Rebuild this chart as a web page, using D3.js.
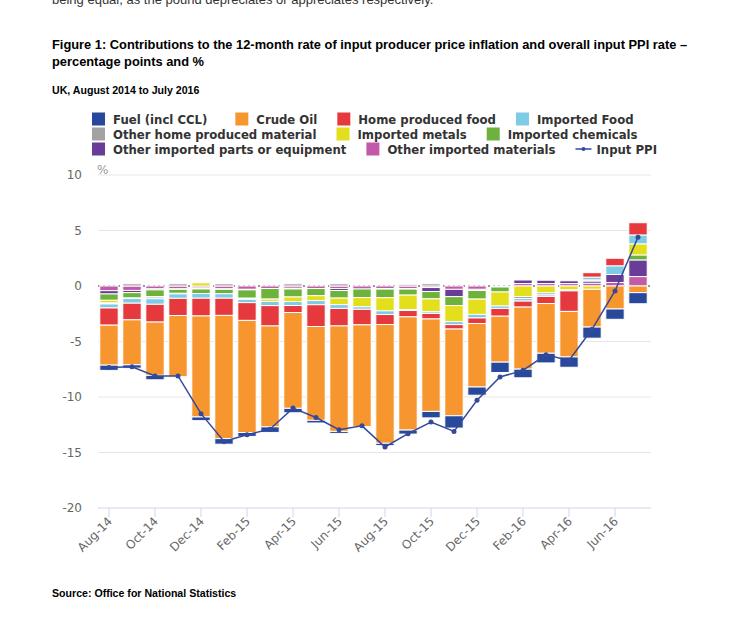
<!DOCTYPE html>
<html>
<head>
<meta charset="utf-8">
<script src="https://cdn.jsdelivr.net/npm/d3@7"></script>
<style>
  body { margin: 0; background: #fff; }
  svg { display: block; }
</style>
</head>
<body>
<script>
// months on the x axis
var months = ["Aug-14","Sep-14","Oct-14","Nov-14","Dec-14","Jan-15","Feb-15","Mar-15",
              "Apr-15","May-15","Jun-15","Jul-15","Aug-15","Sep-15","Oct-15","Nov-15",
              "Dec-15","Jan-16","Feb-16","Mar-16","Apr-16","May-16","Jun-16","Jul-16"];
var tickMonths = ["Aug-14","Oct-14","Dec-14","Feb-15","Apr-15","Jun-15",
                  "Aug-15","Oct-15","Dec-15","Feb-16","Apr-16","Jun-16"];
var yTicks = [10, 5, 0, -5, -10, -15, -20];

// contributions, percentage points
var fuel      = [-0.47,-0.30,-0.40,-0.05,-0.33,-0.50,-0.35,-0.50,-0.40,-0.24,-0.18,-0.05,
                 -0.21,-0.36,-0.58,-1.11,-0.74,-0.93,-0.78,-0.87,-0.93,-1.00,-0.93,-1.00];
var crude     = [-3.60,-4.05,-4.80,-5.50,-9.10,-11.1,-10.1,-9.09,-8.63,-8.45,-9.50,-9.16,
                 -10.7,-10.2,-8.33,-7.81,-5.72,-4.14,-5.59,-4.48,-4.10,-3.40,-2.07,-0.60];
var homeFood  = [-1.55,-1.50,-1.60,-1.55,-1.60,-1.55,-1.60,-1.83,-0.63,-1.96,-1.58,-1.40,
                 -0.90,-0.57,-0.50,-0.40,-0.50,-0.70,-0.54,-0.64,-1.85,0.40,0.68,1.10];
var impFood   = [-0.36,-0.42,-0.50,-0.40,-0.42,-0.40,-0.30,-0.38,-0.36,-0.38,-0.34,-0.23,
                 -0.33,-0.09,-0.15,-0.27,-0.32,-0.22,-0.23,-0.14,-0.09,0.25,0.78,0.80];
var otherHome = [-0.09,0.20,-0.15,0.20,0.10,0.20,-0.05,0.00,0.20,0.00,0.20,0.00,
                 0.00,0.15,0.20,0.00,0.00,0.00,-0.18,-0.18,0.00,0.10,0.00,0.00];
var metals    = [-0.24,-0.05,-0.05,-0.05,0.30,0.00,-0.05,-0.21,-0.41,-0.44,-0.59,-0.83,
                 -1.18,-1.30,-1.16,-1.45,-1.38,-1.26,-0.95,-0.62,-0.35,-0.30,0.00,1.00];
var chem      = [-0.57,-0.48,-0.60,-0.36,-0.41,-0.40,-0.75,-0.95,-0.72,-0.64,-0.68,-0.77,
                 -0.78,-0.54,-0.66,-0.80,-0.78,-0.45,0.00,0.00,0.00,0.00,0.00,0.45];
var parts     = [-0.30,-0.20,-0.10,-0.05,-0.09,-0.05,-0.05,0.00,-0.06,0.00,-0.18,0.00,
                 -0.05,-0.05,-0.36,-0.66,-0.10,0.00,0.32,0.30,0.25,0.20,0.72,1.50];
var otherImp  = [-0.42,-0.40,-0.25,-0.25,-0.18,-0.25,-0.30,-0.23,-0.21,-0.23,-0.23,-0.27,
                 -0.23,-0.23,-0.14,-0.30,-0.30,-0.09,0.22,0.22,0.22,0.25,0.32,0.85];
// overall input PPI, %
var inputPPI  = [-7.35,-7.27,-8.10,-8.10,-11.5,-14.0,-13.4,-12.9,-11.0,-11.85,-12.95,-12.6,
                 -14.5,-13.3,-12.25,-13.1,-10.3,-8.2,-7.6,-6.2,-6.7,-3.9,-0.45,4.4];

var seriesNames  = ["Fuel (incl CCL)","Crude Oil","Home produced food","Imported Food",
                    "Other home produced material","Imported metals","Imported chemicals",
                    "Other imported parts or equipment","Other imported materials"];
var seriesValues = [fuel, crude, homeFood, impFood, otherHome, metals, chem, parts, otherImp];
var seriesColors = ["#27489b","#f7962f","#e5393e","#7ecbe5","#a3a3a3",
                    "#e4df1d","#6cb23c","#693d97","#c35aa8"];
var ppiColor = "#34499a";

var W = 749, H = 622;
var svg = d3.select("body").append("svg").attr("width", W).attr("height", H);
svg.append("rect").attr("width", W).attr("height", H).attr("fill", "#fff");

// header texts
var sans = "'Liberation Sans', Arial, Helvetica, sans-serif";
svg.append("text").attr("x", 52).attr("y", 4)
  .style("font-family", sans).style("font-size", "13px").attr("fill", "#333")
  .text("being equal, as the pound depreciates or appreciates respectively.");
svg.append("text").attr("x", 52).attr("y", 49)
  .style("font-family", sans).style("font-size", "12.85px").style("font-weight", "bold")
  .attr("fill", "#000")
  .text("Figure 1: Contributions to the 12-month rate of input producer price inflation and overall input PPI rate \u2013");
svg.append("text").attr("x", 52).attr("y", 66)
  .style("font-family", sans).style("font-size", "12.85px").style("font-weight", "bold")
  .attr("fill", "#000").text("percentage points and %");
svg.append("text").attr("x", 52).attr("y", 94)
  .style("font-family", sans).style("font-size", "10.6px").style("font-weight", "bold")
  .attr("fill", "#000").text("UK, August 2014 to July 2016");
svg.append("text").attr("x", 52).attr("y", 597)
  .style("font-family", sans).style("font-size", "10.6px").style("font-weight", "bold")
  .attr("fill", "#000").text("Source: Office for National Statistics");

// scales
var x = d3.scaleBand().domain(months).range([97.5, 649.5]).paddingInner(0.2).paddingOuter(0.1);
var y = d3.scaleLinear().domain([-20, 10]).range([508, 175]);
var left = 98, right = 651;

var chartFont = "'DejaVu Sans', Verdana, sans-serif";

// grid
svg.append("g").selectAll("line").data(yTicks.filter(function(d){ return d !== -20 && d !== 0; }))
  .enter().append("line")
  .attr("x1", left).attr("x2", right)
  .attr("y1", function(d){ return y(d); }).attr("y2", function(d){ return y(d); })
  .attr("stroke", "#e6e6e6").attr("stroke-width", 1);

svg.append("g").selectAll("text").data(yTicks).enter().append("text")
  .attr("x", 82).attr("y", function(d){ return y(d) + 4; })
  .attr("text-anchor", "end")
  .style("font-family", chartFont).style("font-size", "12px").attr("fill", "#666")
  .text(function(d){ return d; });

svg.append("text").attr("x", 97).attr("y", 174)
  .style("font-family", chartFont).style("font-size", "12px").attr("fill", "#999").text("%");

// zero plot line (dotted, behind bars)
svg.append("line").attr("x1", left).attr("x2", right)
  .attr("y1", y(0)).attr("y2", y(0))
  .attr("stroke", "#999").attr("stroke-width", 2).attr("stroke-dasharray", "2,3");

// stacked columns, last series nearest zero like the original
var rows = months.map(function(m, i) {
  var r = { month: m };
  seriesNames.forEach(function(n, k){ r[n] = seriesValues[k][i]; });
  return r;
});
var stackKeys = seriesNames.slice().reverse();
var stacked = d3.stack().keys(stackKeys).offset(d3.stackOffsetDiverging)(rows);

svg.append("g").selectAll("g").data(stacked).enter().append("g")
  .attr("fill", function(s){ return seriesColors[seriesNames.indexOf(s.key)]; })
  .selectAll("rect").data(function(s){ return s; }).enter().append("rect")
  .attr("x", function(d){ return x(d.data.month); })
  .attr("width", x.bandwidth())
  .attr("y", function(d){ return y(Math.max(d[0], d[1])); })
  .attr("height", function(d){ return Math.abs(y(d[0]) - y(d[1])); })
  .attr("stroke", "#fff").attr("stroke-width", 1);

// x axis
svg.append("line").attr("x1", left).attr("x2", right).attr("y1", y(-20)).attr("y2", y(-20))
  .attr("stroke", "#ccd6eb").attr("stroke-width", 1);
var xt = svg.append("g").selectAll("g").data(tickMonths).enter().append("g")
  .attr("transform", function(d){ return "translate(" + (x(d) + x.bandwidth() / 2) + ",0)"; });
xt.append("line").attr("y1", y(-20)).attr("y2", y(-20) + 9).attr("stroke", "#ccd6eb");
xt.append("text")
  .attr("transform", "translate(4," + (y(-20) + 14) + ") rotate(-45)")
  .attr("text-anchor", "end")
  .style("font-family", chartFont).style("font-size", "12px").attr("fill", "#666")
  .text(function(d){ return d; });

// input PPI line
var line = d3.line()
  .x(function(d, i){ return x(months[i]) + x.bandwidth() / 2; })
  .y(function(d){ return y(d); });
svg.append("path").datum(inputPPI).attr("d", line)
  .attr("fill", "none").attr("stroke", ppiColor).attr("stroke-width", 1.5);
svg.append("g").selectAll("circle").data(inputPPI).enter().append("circle")
  .attr("cx", function(d, i){ return x(months[i]) + x.bandwidth() / 2; })
  .attr("cy", function(d){ return y(d); })
  .attr("r", 2.5).attr("fill", ppiColor);

// legend, three rows, flowed left to right
var legendRows = [[0, 1, 2, 3], [4, 5, 6], [7, 8, 9]];
var legend = svg.append("g");
legendRows.forEach(function(row, r) {
  var lx = 92, ly = 119 + r * 15;
  row.forEach(function(k, j) {
    var item = legend.append("g").attr("transform", "translate(" + lx + "," + ly + ")");
    var name, sw = 21;
    if (k < seriesNames.length) {
      name = seriesNames[k];
      item.append("rect").attr("x", 0).attr("y", -6.5).attr("width", 13).attr("height", 13)
        .attr("fill", seriesColors[k]);
    } else {
      name = "Input PPI";
      item.append("line").attr("x1", 0).attr("x2", 16).attr("y1", 0).attr("y2", 0)
        .attr("stroke", ppiColor).attr("stroke-width", 1.5);
      item.append("circle").attr("cx", 8).attr("cy", 0).attr("r", 2).attr("fill", ppiColor);
    }
    var t = item.append("text").attr("x", sw).attr("y", 4.5)
      .style("font-family", chartFont).style("font-size", "11.7px").style("font-weight", "bold")
      .attr("fill", "#333").text(name);
    // first item of the top row sits a little further from its neighbour
    var gap = (r === 0 && j === 0) ? 28 : 20;
    lx += sw + t.node().getComputedTextLength() + gap;
  });
});
</script>
</body>
</html>
